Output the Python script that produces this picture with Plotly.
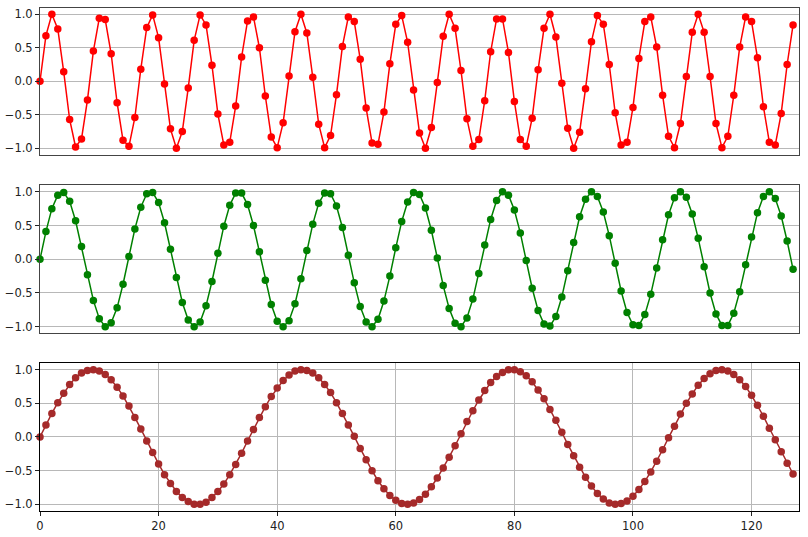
import plotly.graph_objects as go

x_vals = list(range(128))

top_vals = [0.00,0.68,1.00,0.78,0.14,-0.57,-0.98,-0.86,-0.28,0.45,
0.94,0.92,0.41,-0.32,-0.88,-0.97,-0.54,0.18,0.80,0.99,
0.65,-0.04,-0.71,-1.00,-0.75,-0.10,0.61,0.99,0.84,0.24,
-0.49,-0.95,-0.91,-0.37,0.36,0.90,0.96,0.50,-0.22,-0.83,
-0.99,-0.62,0.08,0.74,1.00,0.72,0.06,-0.64,-0.99,-0.81,
-0.20,0.52,0.96,0.89,0.33,-0.40,-0.92,-0.94,-0.46,0.26,
0.85,0.98,0.58,-0.13,-0.77,-1.00,-0.69,-0.02,0.67,1.00,
0.79,0.16,-0.56,-0.97,-0.87,-0.29,0.44,0.93,0.93,0.43,
-0.30,-0.87,-0.97,-0.55,0.17,0.79,1.00,0.66,-0.03,-0.70,
-1.00,-0.76,-0.11,0.59,0.98,0.85,0.25,-0.47,-0.95,-0.91,
-0.39,0.34,0.89,0.96,0.51,-0.21,-0.82,-0.99,-0.63,0.07,
0.73,1.00,0.73,0.07,-0.63,-0.99,-0.82,-0.21,0.51,0.96,
0.89,0.35,-0.38,-0.91,-0.95,-0.48,0.25,0.84]

middle_vals = [0.00,0.41,0.75,0.95,0.99,0.86,0.57,0.19,-0.23,-0.61,
-0.88,-1.00,-0.94,-0.72,-0.37,0.04,0.45,0.77,0.97,0.99,
0.84,0.54,0.15,-0.27,-0.64,-0.90,-1.00,-0.93,-0.69,-0.33,
0.09,0.49,0.80,0.98,0.98,0.81,0.50,0.11,-0.31,-0.67,
-0.92,-1.00,-0.91,-0.66,-0.29,0.13,0.52,0.83,0.98,0.97,
0.79,0.47,0.06,-0.35,-0.70,-0.93,-1.00,-0.89,-0.62,-0.25,
0.17,0.56,0.85,0.99,0.96,0.76,0.43,0.02,-0.39,-0.73,
-0.95,-1.00,-0.87,-0.59,-0.21,0.21,0.59,0.87,1.00,0.95,
0.73,0.39,-0.02,-0.43,-0.76,-0.96,-0.99,-0.85,-0.56,-0.17,
0.25,0.63,0.89,1.00,0.93,0.70,0.35,-0.06,-0.47,-0.79,
-0.97,-0.98,-0.82,-0.52,-0.13,0.29,0.66,0.91,1.00,0.92,
0.67,0.31,-0.11,-0.50,-0.81,-0.98,-0.98,-0.80,-0.48,-0.08,
0.33,0.69,0.93,1.00,0.90,0.64,0.27,-0.15]

bottom_vals = [0.00,0.18,0.35,0.51,0.65,0.78,0.88,0.95,0.99,1.00,
0.98,0.93,0.85,0.74,0.61,0.46,0.29,0.12,-0.06,-0.23,
-0.40,-0.56,-0.69,-0.81,-0.90,-0.96,-1.00,-1.00,-0.97,-0.90,
-0.81,-0.70,-0.56,-0.41,-0.24,-0.06,0.11,0.29,0.45,0.60,
0.73,0.84,0.92,0.98,1.00,0.99,0.95,0.88,0.78,0.66,
0.51,0.35,0.18,0.01,-0.17,-0.34,-0.50,-0.65,-0.77,-0.87,
-0.94,-0.99,-1.00,-0.98,-0.93,-0.85,-0.74,-0.61,-0.46,-0.30,
-0.13,0.05,0.23,0.39,0.55,0.69,0.81,0.90,0.96,1.00,
1.00,0.97,0.91,0.82,0.70,0.57,0.41,0.25,0.07,-0.11,
-0.28,-0.45,-0.60,-0.73,-0.84,-0.92,-0.98,-1.00,-0.99,-0.95,
-0.88,-0.78,-0.66,-0.52,-0.36,-0.19,-0.01,0.16,0.34,0.50,
0.64,0.77,0.87,0.94,0.99,1.00,0.98,0.93,0.85,0.75,
0.62,0.47,0.31,0.13,-0.04,-0.22,-0.39,-0.55]

y_tick_vals = [-1.0, -0.5, 0.0, 0.5, 1.0]
y_tick_text = ["\u22121.0", "\u22120.5", "0.0", "0.5", "1.0"]
x_tick_vals = [0, 20, 40, 60, 80, 100, 120]
x_tick_text = ["0", "20", "40", "60", "80", "100", "120"]

series = [
    (top_vals, "#ff0000", "x", "y"),
    (middle_vals, "#008000", "x2", "y2"),
    (bottom_vals, "#a52a2a", "x3", "y3"),
]

fig = go.Figure()
for vals, color, xa, ya in series:
    fig.add_trace(go.Scatter(
        x=x_vals, y=vals, mode="lines+markers",
        line=dict(color=color, width=1.5),
        marker=dict(color=color, size=7.5),
        xaxis=xa, yaxis=ya, showlegend=False,
        hoverinfo="skip", cliponaxis=False,
    ))

font = dict(family="DejaVu Sans", size=11.5, color="#222222")
grid_col = "#b8b8b8"

def yax(domain, anchor, linecolor):
    return dict(
        domain=domain, anchor=anchor, range=[-1.1, 1.1],
        tickvals=y_tick_vals, ticktext=y_tick_text,
        showgrid=True, gridcolor=grid_col, gridwidth=1,
        zeroline=False, showline=True, mirror=True,
        linecolor=linecolor, linewidth=1,
        ticks="outside", ticklen=4, tickwidth=1, tickcolor="#222222",
        tickfont=font, automargin=False,
    )

def xax(anchor, linecolor, labels):
    d = dict(
        domain=[0, 1], anchor=anchor, range=[0, 128],
        zeroline=False, showline=True, mirror=True,
        linecolor=linecolor, linewidth=1,
        tickfont=font, automargin=False,
    )
    if labels:
        d.update(tickvals=x_tick_vals, ticktext=x_tick_text,
                 showgrid=True, gridcolor=grid_col, gridwidth=1,
                 ticks="outside", ticklen=4, tickwidth=1, tickcolor="#222222")
    else:
        d.update(showticklabels=False, showgrid=False, ticks="")
    return d

fig.update_layout(
    width=808, height=537,
    margin=dict(l=40, r=9, t=7, b=26),
    paper_bgcolor="white", plot_bgcolor="white",
    font=font,
    xaxis=xax("y", "#444444", False),
    yaxis=yax([0.7063, 0.999], "x", "#444444"),
    xaxis2=xax("y2", "#444444", False),
    yaxis2=yax([0.3522, 0.6468], "x2", "#444444"),
    xaxis3=xax("y3", "#000000", True),
    yaxis3=yax([0.0, 0.2937], "x3", "#000000"),
)

fig.write_html(
    "out.html",
    config={"displayModeBar": False, "staticPlot": True},
    post_script="document.body.style.margin='0';document.body.style.overflow='hidden';",
)
